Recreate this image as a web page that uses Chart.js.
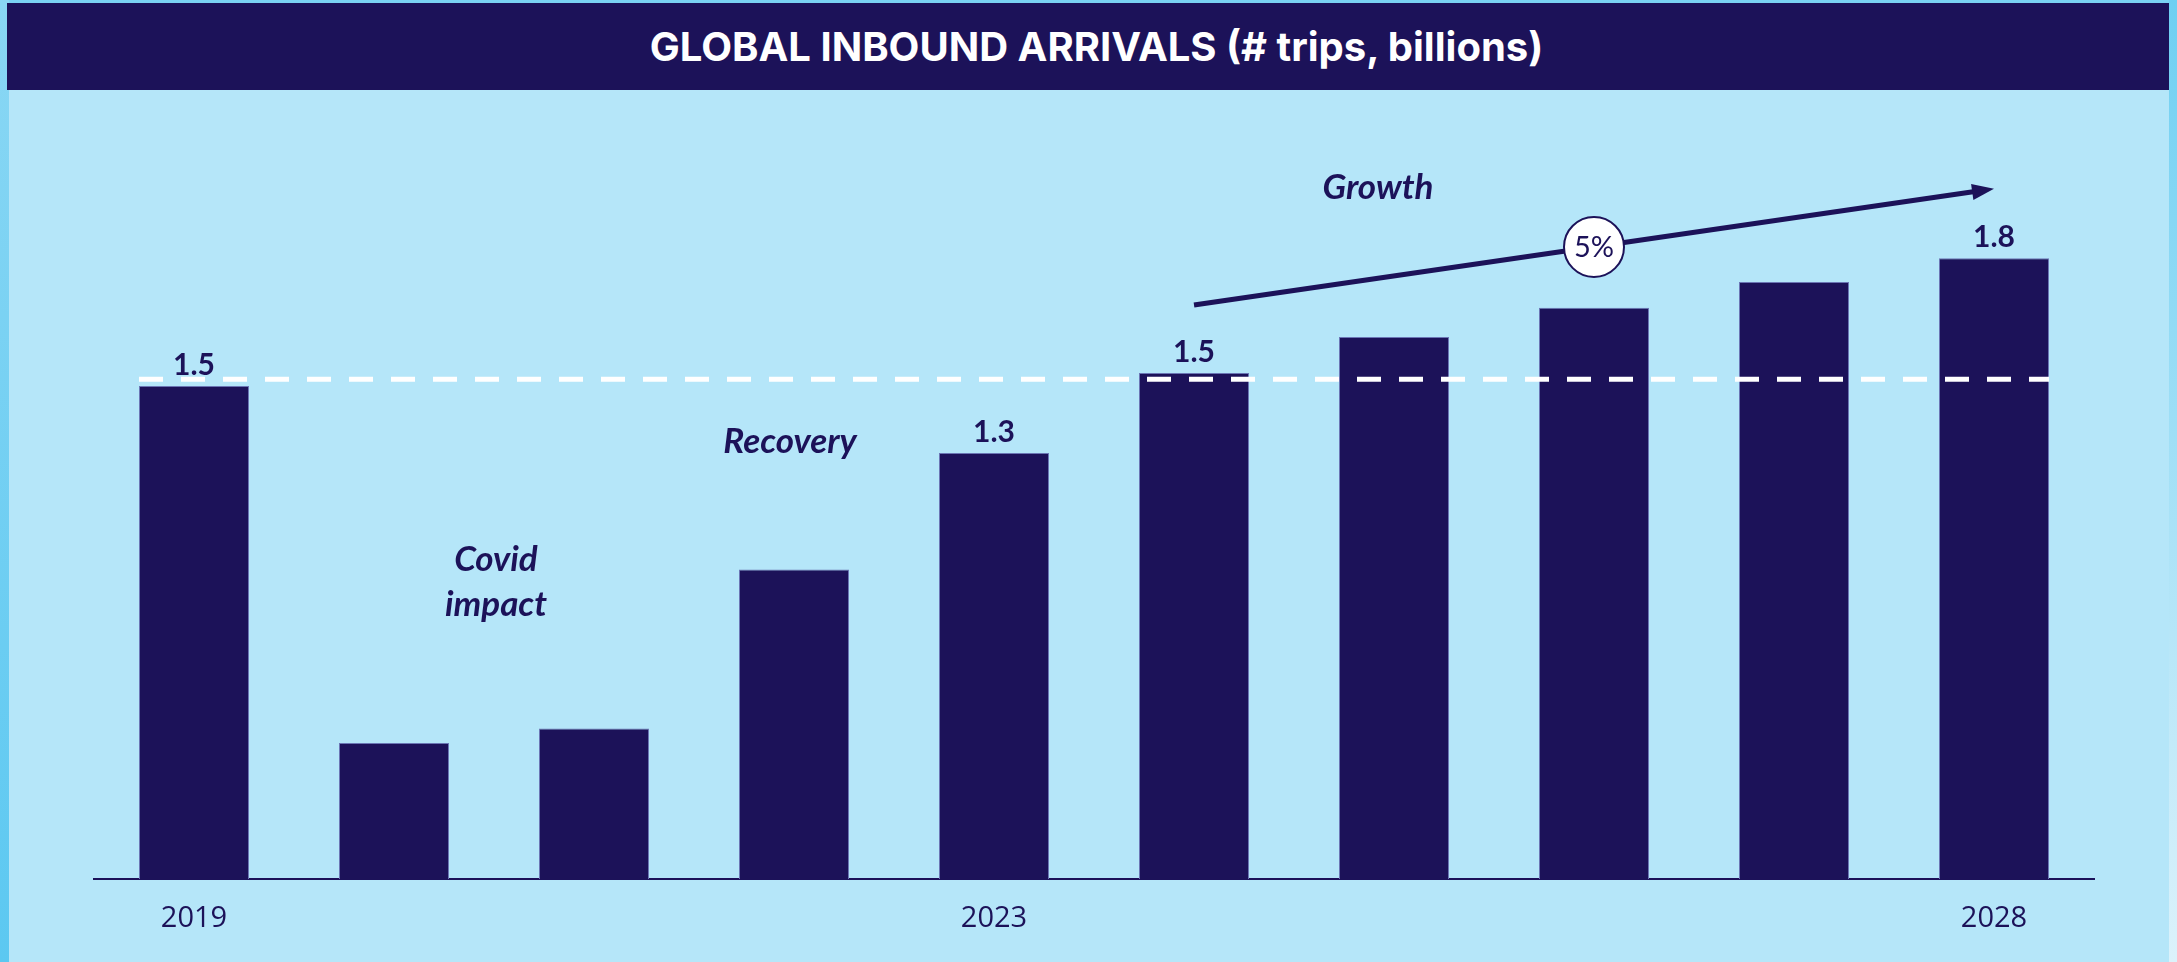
<!DOCTYPE html>
<html>
<head>
<meta charset="utf-8">
<title>Global inbound arrivals</title>
<script src="https://cdn.jsdelivr.net/npm/chart.js@4.4.1/dist/chart.umd.min.js"></script>
<style>
    html, body { margin: 0; padding: 0; }
    body { width: 2177px; height: 962px; position: relative; overflow: hidden; background: #7ad2f3; }
    #strip-left { position: absolute; left: 0; top: 0; width: 9px; height: 962px; background: linear-gradient(#8ad7f4, #5cc8f1); }
    #strip-right { position: absolute; left: 2169px; top: 0; width: 8px; height: 962px; background: linear-gradient(#6dcff2, #dcf2fb); }
    #panel { position: absolute; left: 9px; top: 3px; width: 2160px; height: 959px; background: #b5e6f9; }
    #title {
        position: absolute; left: 7px; top: 3px; width: 2145px; height: 87px; padding-left: 17px;
        background: #1c1259; color: #fff;
        font: 700 40px Inter, sans-serif;
        display: flex; align-items: center; justify-content: center;
    }
    #chart { position: absolute; left: 0; top: 0; }
</style>
</head>
<body>
<div id="strip-left"></div>
<div id="strip-right"></div>
<div id="panel"></div>
<div id="title">GLOBAL INBOUND ARRIVALS (# trips, billions)</div>
<canvas id="chart" width="2177" height="962"></canvas>
<script>
// data (billions of trips)
const years = ['2019', '2020', '2021', '2022', '2023', '2024', '2025', '2026', '2027', '2028'];
const shownYears = ['2019', '2023', '2028'];
const arrivals = [1.45, 0.40, 0.443, 0.91, 1.253, 1.488, 1.594, 1.68, 1.756, 1.826];
const valueLabels = ['1.5', '', '', '', '1.3', '1.5', '', '', '', '1.8'];
const preCovidLevel = 1.47;
const growthLabel = '5%';

const navy = '#1c1259';

// phase notes, placed in data space (category index, value)
const notes = [
    { lines: ['Covid', 'impact'], x: 1.51, y: 0.905 },
    { lines: ['Recovery'], x: 2.98, y: 1.253 },
    { lines: ['Growth'], x: 5.92, y: 2.0 }
];
const growthArrow = { from: [5, 1.688], to: [9, 2.03] };

const overlayPlugin = {
    id: 'overlay',
    afterDatasetsDraw(chart) {
        const ctx = chart.ctx;
        const xs = chart.scales.x;
        const ys = chart.scales.y;
        const bars = chart.getDatasetMeta(0).data;

        // dashed pre-covid level line
        const first = bars[0];
        const last = bars[bars.length - 1];
        const yLine = ys.getPixelForValue(preCovidLevel);
        ctx.save();
        ctx.strokeStyle = '#ffffff';
        ctx.lineWidth = 5;
        ctx.setLineDash([24, 18]);
        ctx.beginPath();
        ctx.moveTo(first.x - first.width / 2, yLine);
        ctx.lineTo(last.x + last.width / 2, yLine);
        ctx.stroke();
        ctx.restore();

        // value labels
        ctx.save();
        ctx.fillStyle = navy;
        ctx.font = '700 30px Lato';
        ctx.textAlign = 'center';
        ctx.textBaseline = 'alphabetic';
        bars.forEach((bar, i) => {
            if (valueLabels[i]) ctx.fillText(valueLabels[i], bar.x, bar.y - 11);
        });
        ctx.restore();

        // italic phase notes
        ctx.save();
        ctx.fillStyle = navy;
        ctx.font = 'italic 700 35px Lato';
        ctx.textAlign = 'center';
        notes.forEach(n => {
            const px = xs.getPixelForValue(n.x);
            const py = ys.getPixelForValue(n.y);
            n.lines.forEach((t, k) => ctx.fillText(t, px, py + k * 45));
        });
        ctx.restore();

        // growth arrow
        const x1 = xs.getPixelForValue(growthArrow.from[0]);
        const y1 = ys.getPixelForValue(growthArrow.from[1]);
        const x2 = xs.getPixelForValue(growthArrow.to[0]);
        const y2 = ys.getPixelForValue(growthArrow.to[1]);
        const ang = Math.atan2(y2 - y1, x2 - x1);
        const head = 22;
        ctx.save();
        ctx.strokeStyle = navy;
        ctx.fillStyle = navy;
        ctx.lineWidth = 5;
        ctx.beginPath();
        ctx.moveTo(x1, y1);
        ctx.lineTo(x2 - head * 0.8 * Math.cos(ang), y2 - head * 0.8 * Math.sin(ang));
        ctx.stroke();
        ctx.beginPath();
        ctx.moveTo(x2, y2);
        ctx.lineTo(x2 - head * Math.cos(ang) + 8 * Math.sin(ang), y2 - head * Math.sin(ang) - 8 * Math.cos(ang));
        ctx.lineTo(x2 - head * Math.cos(ang) - 8 * Math.sin(ang), y2 - head * Math.sin(ang) + 8 * Math.cos(ang));
        ctx.closePath();
        ctx.fill();

        // 5% bubble in the middle of the arrow
        const cx = (x1 + x2) / 2;
        const cy = (y1 + y2) / 2;
        ctx.beginPath();
        ctx.arc(cx, cy, 30, 0, Math.PI * 2);
        ctx.fillStyle = '#ffffff';
        ctx.fill();
        ctx.lineWidth = 2;
        ctx.stroke();
        ctx.fillStyle = navy;
        ctx.font = '400 29px Lato';
        ctx.textAlign = 'center';
        ctx.textBaseline = 'middle';
        ctx.fillText(growthLabel, cx, cy + 1);
        ctx.restore();
    }
};

const ctx = document.getElementById('chart').getContext('2d');
new Chart(ctx, {
    type: 'bar',
    data: {
        labels: years,
        datasets: [{
            data: arrivals,
            backgroundColor: navy,
            borderColor: '#6b76b5',
            borderWidth: 1,
            barPercentage: 0.55,
            categoryPercentage: 1.0
        }]
    },
    options: {
        responsive: false,
        animation: false,
        layout: { padding: { top: 199, left: 94, right: 83, bottom: 0 } },
        plugins: {
            legend: { display: false },
            tooltip: { enabled: false }
        },
        scales: {
            x: {
                grid: { display: false, drawTicks: false },
                border: { display: true, color: navy, width: 2 },
                ticks: {
                    autoSkip: false,
                    maxRotation: 0,
                    padding: 22,
                    color: navy,
                    font: { family: 'Open Sans', size: 29 },
                    callback: (v, i) => shownYears.includes(years[i]) ? years[i] : ''
                },
                afterFit: s => { s.height = 83; }
            },
            y: { display: false, min: 0, max: 2.0 }
        }
    },
    plugins: [overlayPlugin]
});
</script>
</body>
</html>
